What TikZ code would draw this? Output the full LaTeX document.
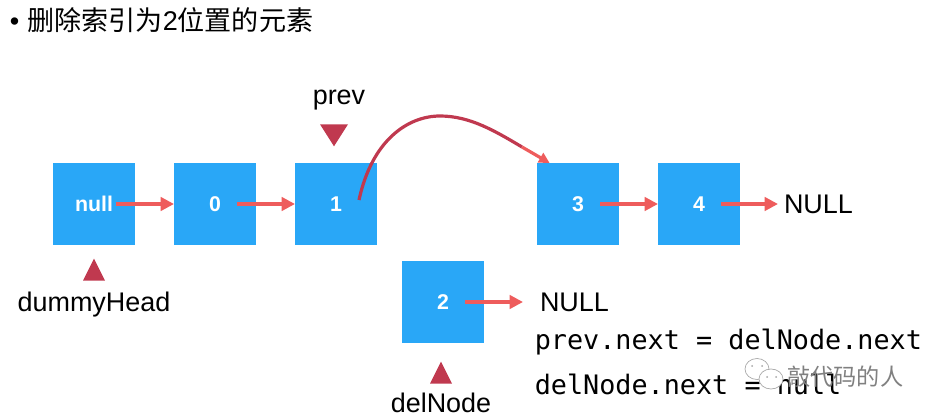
\documentclass[tikz,border=0pt]{standalone}
\usepackage{fontspec}
\setmainfont{Liberation Sans}
\setmonofont{DejaVu Sans Mono}
\newfontfamily\cjk{Noto Sans CJK SC}
\usepackage{tikz}
\usetikzlibrary{positioning,arrows.meta,shapes.geometric}
\definecolor{boxblue}{HTML}{29A7F7}
\definecolor{linkred}{HTML}{EE5C5C}
\definecolor{markred}{HTML}{C0394F}
\tikzset{
  cell/.style={fill=boxblue, text=white, minimum size=61.5pt, inner sep=0pt, outer sep=0pt, font=\fontsize{16}{16}\selectfont\bfseries},
  link/.style={draw=linkred, line width=2.8pt, -{Triangle[length=10pt,width=10pt]}, shorten <=-14pt},
  word/.style={inner sep=0pt, outer sep=0pt, font=\fontsize{20.2}{20}\selectfont},
  code/.style={inner sep=0pt, anchor=base west, font=\fontsize{20.1}{20}\selectfont\ttfamily},
  upmark/.style={isosceles triangle, isosceles triangle stretches, shape border rotate=90, fill=markred, minimum width=16.5pt, minimum height=16.5pt, inner sep=0pt, anchor=apex},
  downmark/.style={upmark, shape border rotate=270, minimum width=21pt},
  bubble/.style={draw=black!35, fill=white, line width=.5pt}
}
\begin{document}
\begin{tikzpicture}[x=0.75pt, y=-0.75pt, node distance=29.25pt]
  \useasboundingbox (0,0) rectangle (933,417);

  \node[word, anchor=base west, font=\fontsize{20.3}{20}\selectfont] (title) at (10,31) {\textbullet\hspace{6pt}{\cjk 删除索引为}2{\cjk 位置的元素}};

  \node[cell] (head) at (94,204) {null};
  \node[cell, right=of head] (zero) {0};
  \node[cell, right=of zero] (one) {1};
  \node[cell, right=120pt of one] (three) {3};
  \node[cell, right=of three] (four) {4};
  \node[cell] (two) at (443,302) {2};

  \node[word, right=33pt of four] (nullfour) {NULL};
  \node[word, right=42pt of two] (nulltwo) {NULL};

  \node[upmark] (headmark) at (94,258) {};
  \node[upmark] (twomark) at (441,361) {};
  \node[downmark] (onemark) at (334,147) {};

  \node[word, anchor=base] (headname) at (94,311) {dummyHead};
  \node[word, anchor=base] (twoname) at (441,412) {delNode};
  \node[word, anchor=base] (onename) at (339,105) {prev};

  \node[code] (lineone) at (534.5,349.5) {prev.next = delNode.next};
  \node[code] (linetwo) at (534.5,394) {delNode.next = null};

  \draw[link] (head.east) -- (zero.west);
  \draw[link] (zero.east) -- (one.west);
  \draw[link] (three.east) -- (four.west);
  \draw[link, shorten >=4.5pt] (four.east) -- (nullfour.west);
  \draw[link, shorten >=12.75pt] (two.east) -- (nulltwo.west);

  \coordinate (bendout) at ([xshift=-13.5pt,yshift=3pt]one.east);
  \coordinate (bendmid) at (522,147);
  \coordinate (bendin) at ([xshift=9.5pt]three.north west);
  \draw[markred, line width=2.4pt] (bendout) .. controls (372,140) and (408,116) .. (440,116) .. controls (470,116) and (495,131) .. (bendmid);
  \draw[linkred, line width=2.4pt, -{Triangle[length=8pt,width=8pt]}] (bendmid) -- (bendin);

  \draw[bubble] (757,369) ellipse (12 and 10.5);
  \draw[bubble] (771,379) ellipse (12 and 10);
  \fill[black!35] (752,366) circle (1) (762,366) circle (1) (767,377) circle (1) (776,377) circle (1);
  \node[inner sep=0pt, anchor=base west, text=black!50, font=\fontsize{17.4}{17.4}\selectfont\cjk] (mark) at (787,385) {敲代码的人};
\end{tikzpicture}
\end{document}
